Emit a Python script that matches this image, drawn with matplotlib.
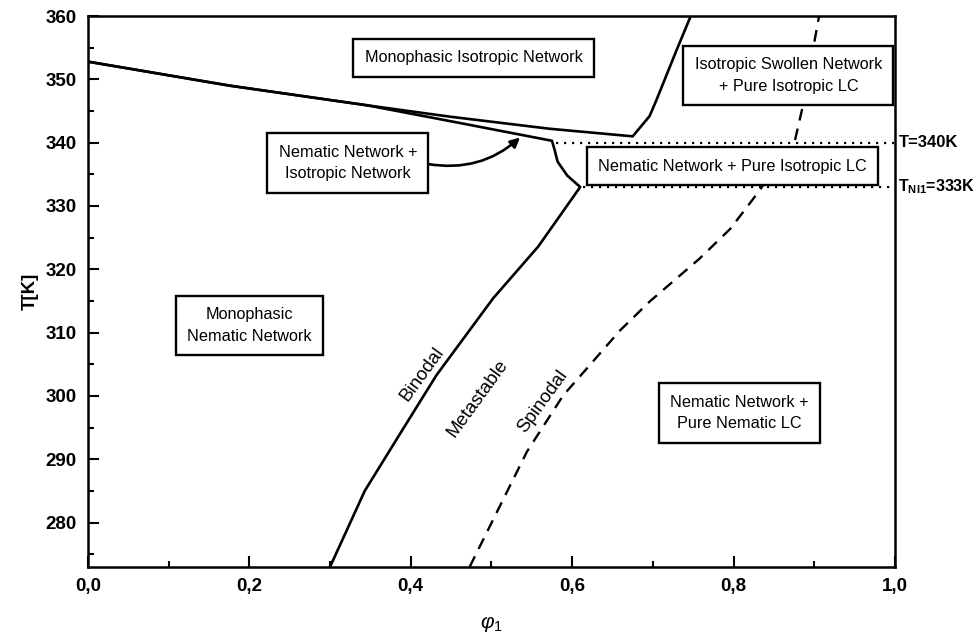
import matplotlib
matplotlib.use("Agg")
import matplotlib.pyplot as plt
from matplotlib.patches import FancyArrowPatch
from matplotlib.ticker import MultipleLocator, FuncFormatter

plt.rcParams['font.family'] = ['Liberation Sans', 'DejaVu Sans']
plt.rcParams['mathtext.fontset'] = 'custom'
plt.rcParams['mathtext.rm'] = 'Liberation Sans'
plt.rcParams['mathtext.bf'] = 'Liberation Sans:bold'
plt.rcParams['mathtext.it'] = 'Liberation Sans:italic'

# Isotropic-network boundary (upper branch, turning up at high phi)
iso_phi = [0.0, 0.176, 0.346, 0.449, 0.572, 0.675, 0.696, 0.705, 0.730, 0.747]
iso_T = [352.8, 349.0, 345.9, 344.1, 342.2, 341.0, 344.2, 346.9, 354.8, 360.0]

# Nematic-network boundary continuing into the binodal
bin_phi = [0.0, 0.176, 0.346, 0.449, 0.575, 0.578, 0.582, 0.594, 0.610,
           0.558, 0.502, 0.432, 0.391, 0.343, 0.300]
bin_T = [352.8, 349.0, 345.9, 343.4, 340.3, 339.0, 337.0, 334.8, 333.0,
         323.6, 315.4, 303.3, 294.9, 285.0, 273.0]

# Spinodal
spin_phi = [0.473, 0.544, 0.589, 0.618, 0.659, 0.696, 0.758, 0.796, 0.829,
            0.876, 0.885, 0.906]
spin_T = [273.0, 291.2, 300.1, 304.3, 310.3, 314.9, 321.7, 326.4, 331.9,
          340.3, 345.3, 360.0]

# Reference temperatures
ref_T = [340, 333]
ref_start = [0.58, 0.613]
ref_labels = ['T=340K', r'T$_{\mathbf{NI1}}$=333K']
ref_sizes = [12, 11.5]

# Region labels: text, phi, T
regions = [
    ('Monophasic Isotropic Network', 0.478, 353.4),
    ('Isotropic Swollen Network\n+ Pure Isotropic LC', 0.868, 350.6),
    ('Nematic Network + Pure Isotropic LC', 0.799, 336.3),
    ('Nematic Network +\nIsotropic Network', 0.322, 336.8),
    ('Monophasic\nNematic Network', 0.200, 311.1),
    ('Nematic Network +\nPure Nematic LC', 0.807, 297.3),
]

curve_labels = [
    ('Binodal', 0.414, 303.5),
    ('Metastable', 0.483, 299.6),
    ('Spinodal', 0.564, 299.1),
]

xticks = [0.0, 0.2, 0.4, 0.6, 0.8, 1.0]
yticks = [280, 290, 300, 310, 320, 330, 340, 350, 360]

fig = plt.figure(figsize=(9.77, 6.42), dpi=100)
ax = fig.add_axes([0.090, 0.117, 0.826, 0.858])

ax.plot(iso_phi, iso_T, color='black', lw=1.9, solid_joinstyle='round', zorder=3)
ax.plot(bin_phi, bin_T, color='black', lw=1.9, solid_joinstyle='round', zorder=3)
ax.plot(spin_phi, spin_T, color='black', lw=1.7, dashes=(5, 3.5), zorder=2)

for T, x0, lab, fs in zip(ref_T, ref_start, ref_labels, ref_sizes):
    ax.plot([x0, 1.0], [T, T], color='black', lw=1.6, linestyle=(0, (1, 2.6)),
            zorder=2, clip_on=False)
    ax.annotate(lab, xy=(1.0, T), xycoords=('axes fraction', 'data'),
                xytext=(2.5, 0), textcoords='offset points', ha='left',
                va='center', fontsize=fs, fontweight='bold', annotation_clip=False)

for text, x, y in regions:
    ax.text(x, y, text, ha='center', va='center', fontsize=11.7,
            linespacing=1.55, zorder=5,
            bbox=dict(boxstyle='square,pad=0.7', fc='white', ec='black', lw=1.7))

for text, x, y in curve_labels:
    ax.text(x, y, text, ha='center', va='center', fontsize=13.5,
            rotation=54, rotation_mode='anchor', zorder=4)

arrow = FancyArrowPatch((0.418, 336.7), (0.538, 341.1),
                        connectionstyle='arc3,rad=0.25', arrowstyle='-|>',
                        mutation_scale=14, color='black', lw=1.9, zorder=4)
ax.add_patch(arrow)

ax.set_xlim(0.0, 1.0)
ax.set_ylim(273, 360)
ax.set_xticks(xticks)
ax.set_yticks(yticks)
ax.xaxis.set_minor_locator(MultipleLocator(0.1))
ax.yaxis.set_minor_locator(MultipleLocator(5))
ax.xaxis.set_major_formatter(FuncFormatter(lambda v, p: f'{v:.1f}'.replace('.', ',')))
ax.tick_params(which='both', direction='in', top=False, right=False, width=1.5)
ax.tick_params(which='major', length=8, labelsize=13.5, pad=8)
ax.tick_params(which='minor', length=4.5)
for lab in ax.get_xticklabels() + ax.get_yticklabels():
    lab.set_fontweight('bold')
for s in ax.spines.values():
    s.set_linewidth(1.8)

ax.set_ylabel('T[K]', fontsize=13.5, fontweight='bold', labelpad=5)
ax.set_xlabel(r'$\varphi_1$', fontsize=15, labelpad=14)

fig.savefig('out.png', dpi=100, facecolor='white')
